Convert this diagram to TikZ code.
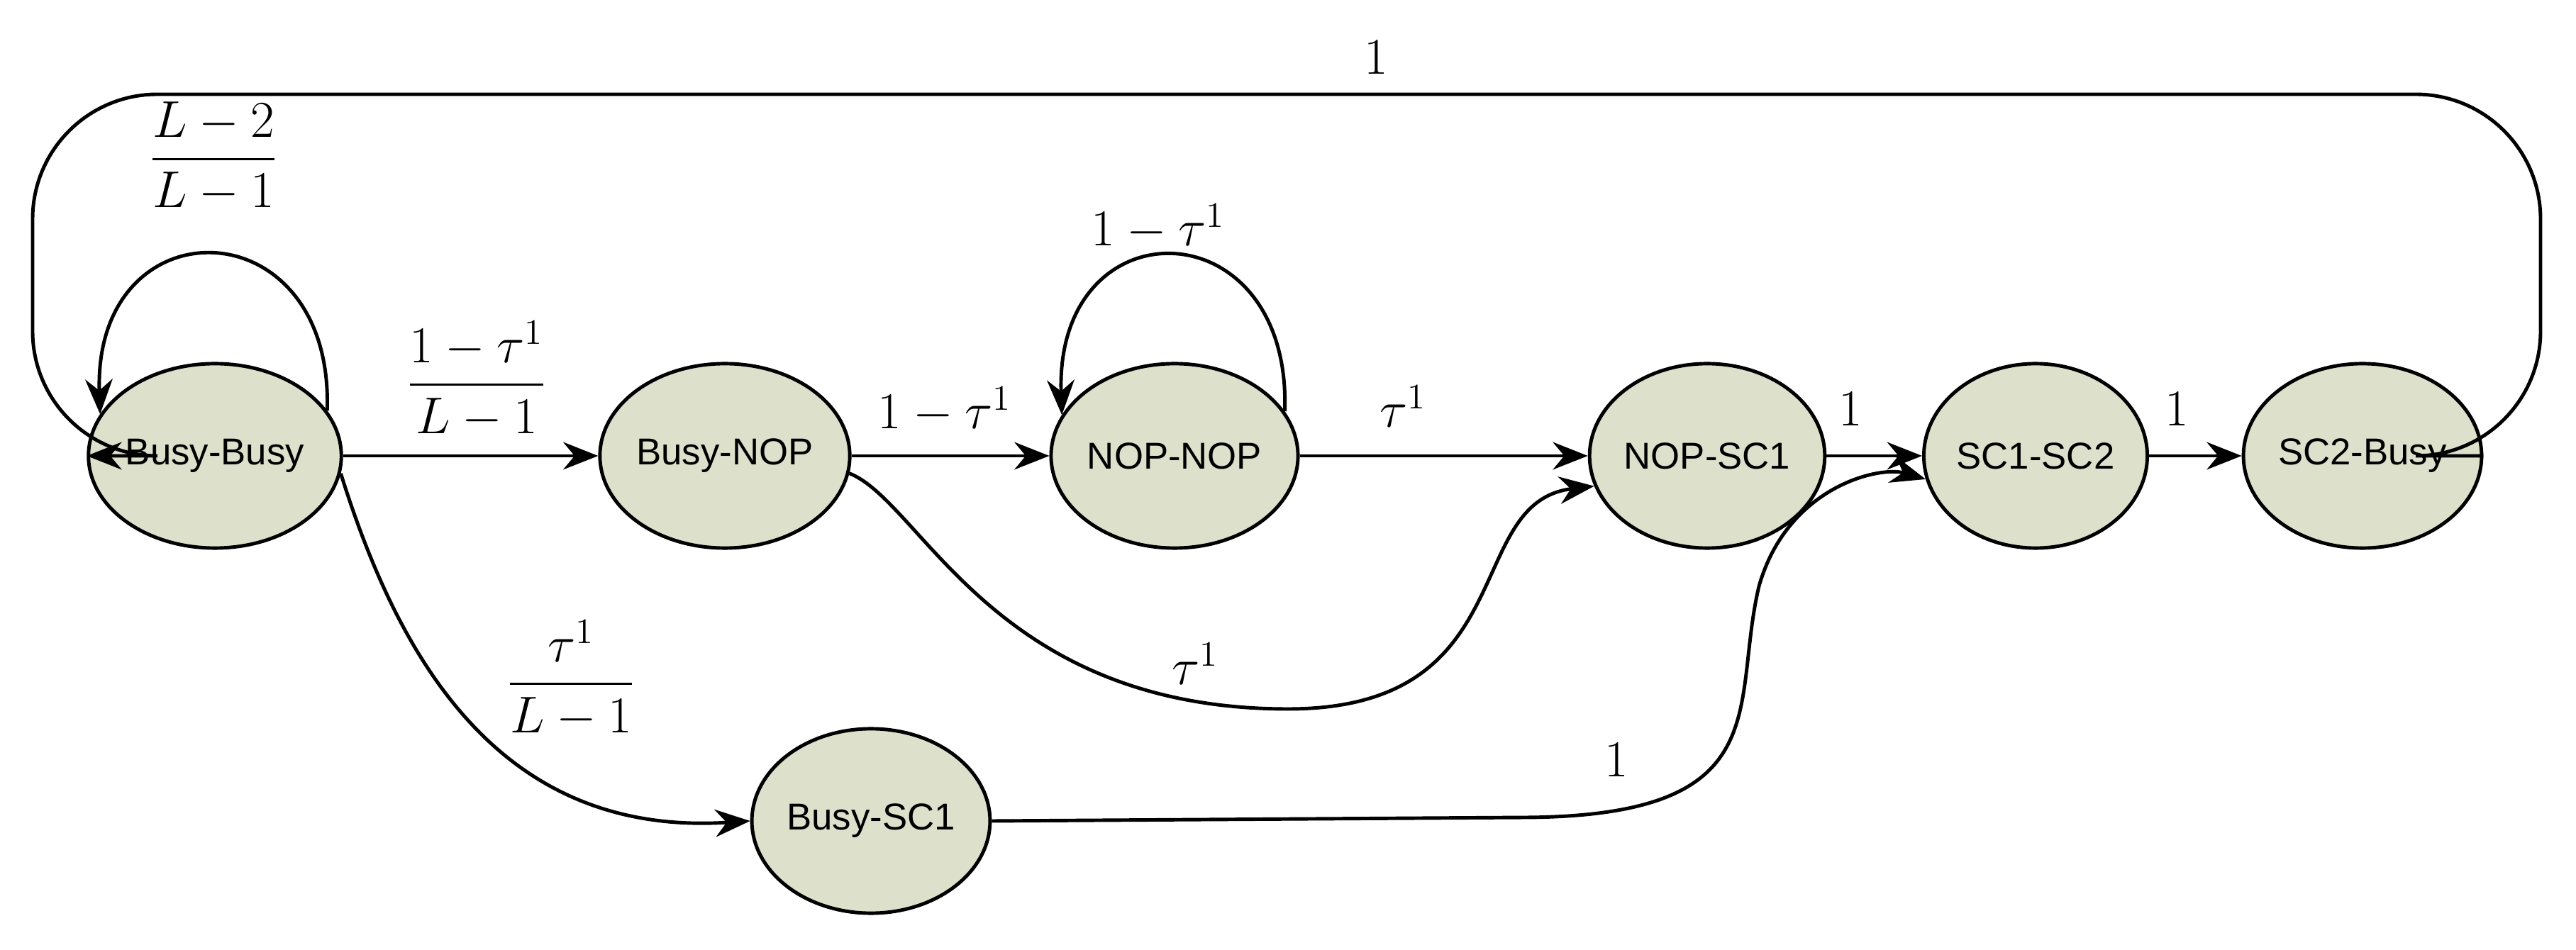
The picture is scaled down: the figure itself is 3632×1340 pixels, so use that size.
\documentclass[tikz,border=0pt]{standalone}
\usepackage{amsmath}
\usepackage{fontspec}
\setmainfont{Liberation Sans}
\usetikzlibrary{shapes.geometric,arrows.meta}
\begin{document}
\begin{tikzpicture}[x=0.01cm,y=-0.01cm,
  st/.style={ellipse,draw,line width=1.4pt,fill={rgb,255:red,221;green,224;blue,203},minimum width=3.06cm,minimum height=2.6cm,inner sep=0pt,font=\fontsize{15}{18}\selectfont},
  ed/.style={line width=1.4pt,-{Stealth[length=14pt,width=11pt]}},
  lb/.style={font=\fontsize{20}{24}\selectfont}]
\useasboundingbox (0,0) rectangle (3632,1340);
\node[st] (bb) at (303,643) {Busy-Busy};
\node[st] (bn) at (1022,643) {Busy-NOP};
\node[st] (nn) at (1656,643) {NOP-NOP};
\node[st] (bs) at (1228,1158) {Busy-SC1};
\node[st] (ns) at (2407,643) {NOP-SC1};
\node[st] (s12) at (2870,643) {SC1-SC2};
\node[st] (sb) at (3331,643) {SC2-Busy};
% self loops
\draw[ed] (bb.22) .. controls +(10,-290) and +(-10,-300) .. (bb.160);
\node[lb] (l1) at (301,221) {$\dfrac{L-2}{L-1}$};
\draw[ed] (nn.22) .. controls +(10,-290) and +(-10,-300) .. (nn.160);
\node[lb] (l2) at (1633,320) {$1-\tau^{1}$};
% straight
\draw[ed] (bb) -- (bn);
\node[lb] (l3) at (672,535) {$\dfrac{1-\tau^{1}}{L-1}$};
\draw[ed] (bn) -- (nn);
\node[lb] (l4) at (1332,578) {$1-\tau^{1}$};
\draw[ed] (nn) -- (ns);
\node[lb] (l5) at (1978,573) {$\tau^{1}$};
\draw[ed] (ns) -- (s12);
\node[lb] (l6) at (2609,577) {$1$};
\draw[ed] (s12) -- (sb);
\node[lb] (l7) at (3069,577) {$1$};
% curves
\draw[ed] (bn.-8) .. controls (1300,708) and (1400,1000) .. (1816,1000) .. controls (2150,1000) and (2060,708) .. (ns.195);
\node[lb] (l8) at (1685,936) {$\tau^{1}$};
\draw[ed] (bb.-8) .. controls (560,922) and (700,1181) .. (bs.west);
\node[lb] (l9) at (805,957) {$\dfrac{\tau^{1}}{L-1}$};
\draw[ed] (bs.east) -- (2150,1153) .. controls (2510,1151) and (2440,996) .. (2480,827) .. controls (2520,686) and (2650,657) .. (s12.192);
\node[lb] (l10) at (2279,1072) {$1$};
\draw[ed,rounded corners=50] (sb.east) -- (3582,643) -- (3582,133) -- (46,133) -- (46,643) -- (bb.west);
\node[lb] (l11) at (1940,81) {$1$};
\end{tikzpicture}
\end{document}
